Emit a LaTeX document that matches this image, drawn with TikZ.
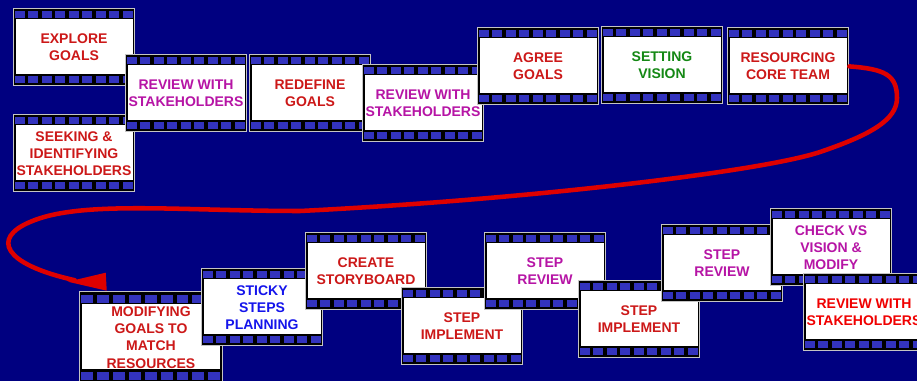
\documentclass[tikz,border=0pt]{standalone}
\usepackage{fontspec}
\setmainfont{Liberation Sans}
\usetikzlibrary{calc}

\definecolor{bgnavy}{RGB}{0,0,128}
\definecolor{holeblue}{RGB}{51,51,190}
\definecolor{framegray}{RGB}{196,196,196}
\definecolor{txtred}{RGB}{204,24,24}
\definecolor{txtbright}{RGB}{240,0,0}
\definecolor{txtmag}{RGB}{182,20,165}
\definecolor{txtgreen}{RGB}{20,136,20}
\definecolor{txtblue}{RGB}{20,20,235}
\definecolor{arrowred}{RGB}{222,0,0}

\tikzset{
  frametext/.style={align=center, font=\fontsize{10.5}{12.9}\selectfont\bfseries, inner sep=0pt},
  flowline/.style={draw=arrowred, line width=3.4pt, line cap=round},
  flowhead/.style={fill=arrowred},
}

\newcommand\filmframe[6]{%
  \begin{scope}[shift={(#2,#3)}, scale=#4]
    \fill[framegray] (0,0) rectangle (122,78);
    \fill[black] (1,1) rectangle (121,77);
    \foreach \i in {0,...,8}{
      \fill[holeblue] ({2+13.45*\i},3) rectangle ++(10,7);
      \fill[holeblue] ({2+13.45*\i},68.4) rectangle ++(10,6.6);
    }
    \fill[white] (2.5,11) rectangle (119.5,65.8);
    \node[frametext, text=#5, minimum width={91.5pt*#4}, minimum height={58.5pt*#4}] (#1) at (61,39.4) {#6};
  \end{scope}}

\begin{document}
\begin{tikzpicture}[x=0.75pt, y=-0.75pt]
  \fill[bgnavy] (0,0) rectangle (917,381);
  \useasboundingbox (0,0) rectangle (917,381);
  \clip (0,0) rectangle (917,381);

  \filmframe{fA}{13}{8}{1}{txtred}{EXPLORE\\GOALS}
  \filmframe{fB}{13}{114}{1}{txtred}{SEEKING \&\\IDENTIFYING\\STAKEHOLDERS}
  \filmframe{fC}{125}{54}{1}{txtmag}{REVIEW WITH\\STAKEHOLDERS}
  \filmframe{fD}{249}{54}{1}{txtred}{REDEFINE\\GOALS}
  \filmframe{fE}{362}{64}{1}{txtmag}{REVIEW WITH\\STAKEHOLDERS}
  \filmframe{fF}{477}{27}{1}{txtred}{AGREE\\GOALS}
  \filmframe{fG}{601}{26}{1}{txtgreen}{SETTING\\VISION}
  \filmframe{fH}{727}{27}{1}{txtred}{RESOURCING\\CORE TEAM}

  \filmframe{fI}{79}{291}{1.18}{txtred}{MODIFYING\\GOALS TO\\MATCH\\RESOURCES}
  \filmframe{fJ}{201}{268}{1}{txtblue}{STICKY\\STEPS\\PLANNING}
  \filmframe{fK}{305}{232}{1}{txtred}{CREATE\\STORYBOARD}
  \filmframe{fL}{401}{287}{1}{txtred}{STEP\\IMPLEMENT}
  \filmframe{fM}{484}{232}{1}{txtmag}{STEP\\REVIEW}
  \filmframe{fN}{578}{280}{1}{txtred}{STEP\\IMPLEMENT}
  \filmframe{fO}{661}{224}{1}{txtmag}{STEP\\REVIEW}
  \filmframe{fP}{770}{208}{1}{txtmag}{CHECK VS\\VISION \&\\MODIFY}
  \filmframe{fQ}{803}{273}{1}{txtbright}{REVIEW WITH\\STAKEHOLDERS}

  % connector from RESOURCING CORE TEAM to MODIFYING GOALS
  \coordinate (arrowbase) at ($(fI.north west)+(-4,-11)$);
  \draw[flowline] (fH.east)
     .. controls (885,69) and (897,75) .. (897,98)
     .. controls (897,120) and (870,135) .. (820,152)
     .. controls (760,172) and (520,200) .. (300,211)
     .. controls (180,211) and (80,200) .. (30,222)
     .. controls (-8,238) and (2,264) .. (arrowbase);
  \fill[flowhead] ($(fI.north west)+(-11,-9.5)$) -- ($(fI.north west)+(27,-18.5)$)
     -- ($(fI.north west)+(28,-0.5)$) -- cycle;
\end{tikzpicture}
\end{document}
